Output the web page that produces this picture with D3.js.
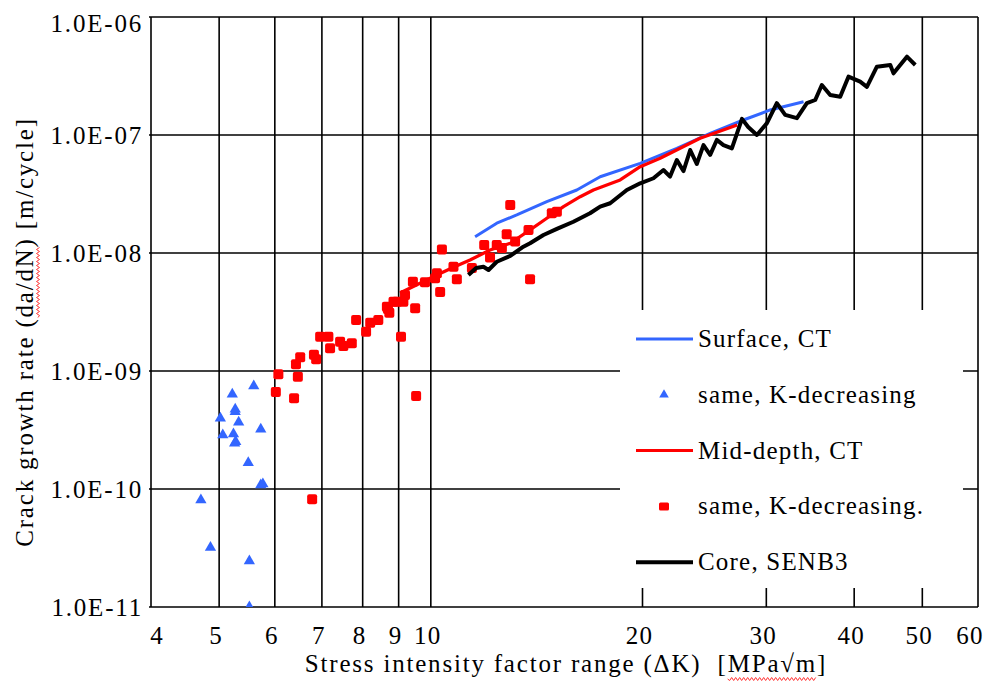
<!DOCTYPE html>
<html>
<head>
<meta charset="utf-8">
<script src="https://cdn.jsdelivr.net/npm/d3@7/dist/d3.min.js"></script>
<style>
  body { margin: 0; background: #fff; }
  text { font-family: "Liberation Serif", "Times New Roman", serif; fill: #000; }
</style>
</head>
<body>
<script>
// Canvas config
const config = { width: 989, height: 684 };
const plot = { left: 151, right: 978, top: 17, bottom: 607 };

// Axis ticks
const xTicks = [4, 5, 6, 7, 8, 9, 10, 20, 30, 40, 50, 60];
const yTicks = [1e-11, 1e-10, 1e-9, 1e-8, 1e-7, 1e-6];
const yTickLabels = ["1.0E-11", "1.0E-10", "1.0E-09", "1.0E-08", "1.0E-07", "1.0E-06"];

// Surface, CT (line)
const surfaceCT = [
  [11.56, 1.375e-8], [12.41, 1.79e-8], [13.25, 2.10e-8], [14.62, 2.72e-8],
  [16.13, 3.42e-8], [17.41, 4.43e-8], [19.85, 5.75e-8], [22.38, 7.71e-8],
  [24.96, 1.034e-7], [27.83, 1.34e-7], [30.38, 1.63e-7], [33.89, 1.915e-7]
];

// Surface, K-decreasing (triangles)
const surfaceKdec = [
  [5.60, 7.46e-10], [5.22, 6.35e-10], [5.27, 4.73e-10], [5.27, 4.52e-10],
  [5.02, 3.97e-10], [5.33, 3.67e-10], [5.73, 3.21e-10], [5.06, 2.87e-10],
  [5.24, 2.92e-10], [5.28, 2.52e-10], [5.26, 2.44e-10], [5.50, 1.67e-10],
  [5.73, 1.08e-10], [5.77, 1.10e-10], [4.71, 8.07e-11], [4.86, 3.2e-11],
  [5.52, 2.45e-11], [5.52, 1.0e-11]
];

// Mid-depth, CT (line)
const midCT = [
  [9.04, 4.58e-9], [9.65, 5.54e-9], [10.20, 6.51e-9], [10.77, 7.57e-9],
  [11.37, 8.73e-9], [12.14, 1.06e-8], [12.97, 1.21e-8], [13.84, 1.57e-8],
  [14.62, 1.97e-8], [15.44, 2.47e-8], [16.31, 3.0e-8], [17.03, 3.42e-8],
  [18.59, 4.16e-8], [19.85, 5.39e-8], [21.19, 6.35e-8], [24.15, 9.38e-8],
  [27.27, 1.215e-7]
];

// Mid-depth, K-decreasing (squares)
const midKdec = [
  [6.07, 9.37e-10], [6.02, 6.64e-10], [6.47, 8.95e-10], [6.39, 5.87e-10],
  [6.43, 1.14e-9], [6.52, 1.31e-9], [6.82, 1.37e-9], [6.87, 1.26e-9],
  [6.78, 8.18e-11], [6.96, 1.95e-9], [7.15, 1.95e-9], [7.19, 1.56e-9],
  [7.43, 1.77e-9], [7.51, 1.63e-9], [7.72, 1.72e-9], [7.83, 2.70e-9],
  [8.09, 2.15e-9], [8.20, 2.56e-9], [8.42, 2.70e-9], [8.69, 3.35e-9],
  [8.73, 3.12e-9], [8.95, 3.86e-9], [9.14, 3.86e-9], [9.07, 1.95e-9],
  [9.50, 3.40e-9], [9.53, 6.14e-10], [9.43, 5.71e-9], [9.81, 5.65e-9],
  [10.20, 6.73e-9], [10.31, 4.67e-9], [10.37, 1.07e-8], [10.77, 7.66e-9],
  [10.89, 5.98e-9], [11.44, 7.46e-9], [11.91, 1.17e-8], [12.14, 9.16e-9],
  [12.41, 1.17e-8], [12.82, 1.44e-8], [12.62, 1.10e-8], [13.18, 1.25e-8],
  [13.77, 1.57e-8], [14.86, 2.17e-8], [15.11, 2.24e-8], [12.97, 2.55e-8],
  [13.84, 5.98e-9], [10.14, 6.11e-9], [8.85, 3.86e-9], [9.19, 4.41e-9],
  [8.66, 3.51e-9]
];

// Core, SENB3 (line)
const coreSENB3 = [
  [11.31, 6.51e-9], [11.60, 7.46e-9], [11.88, 7.65e-9], [12.08, 7.18e-9],
  [12.41, 8.43e-9], [12.97, 9.44e-9], [13.54, 1.13e-8], [13.84, 1.21e-8],
  [14.46, 1.42e-8], [15.11, 1.60e-8], [15.95, 1.84e-8], [16.84, 2.17e-8],
  [17.41, 2.47e-8], [17.99, 2.64e-8], [19.00, 3.42e-8], [19.85, 3.90e-8],
  [20.73, 4.30e-8], [21.42, 5.05e-8], [21.89, 4.44e-8], [22.38, 6.14e-8],
  [22.87, 4.95e-8], [23.38, 7.46e-8], [23.89, 5.68e-8], [24.42, 8.22e-8],
  [24.96, 6.78e-8], [25.51, 9.08e-8], [26.07, 8.22e-8], [26.80, 7.71e-8],
  [27.70, 1.37e-7], [28.27, 1.17e-7], [29.09, 1.0e-7], [30.06, 1.26e-7],
  [31.05, 1.86e-7], [31.91, 1.48e-7], [33.16, 1.39e-7], [34.26, 1.86e-7],
  [35.21, 1.98e-7], [35.98, 2.65e-7], [36.98, 2.18e-7], [38.21, 2.11e-7],
  [39.26, 3.12e-7], [40.79, 2.83e-7], [41.70, 2.56e-7], [43.09, 3.79e-7],
  [45.02, 3.92e-7], [45.50, 3.33e-7], [47.54, 4.61e-7], [48.86, 3.92e-7]
];

// Legend
const legendLabels = ["Surface, CT", "same, K-decreasing", "Mid-depth, CT", "same, K-decreasing.", "Core, SENB3"];
const legendKinds = ["line", "triangle", "line", "square", "line"];
const legendColors = ["#3366ff", "#3366ff", "#ff0000", "#ff0000", "#000000"];

const xTitle = "Stress intensity factor range (\u0394K)  [MPa\u221am]";
const yTitle = "Crack growth rate (da/dN) [m/cycle]";

const fontSize = 25;
const spacing = "1.8px";

// Creating the canvas
const svg = d3
  .select("body")
  .append("svg")
  .attr("width", config.width)
  .attr("height", config.height);

svg.append("rect").attr("width", config.width).attr("height", config.height).attr("fill", "#fff");

// Scales
const x = d3.scaleLog().domain([4, 60]).range([plot.left, plot.right]);
const y = d3.scaleLog().domain([1e-11, 1e-6]).range([plot.bottom, plot.top]);

// Gridlines
const grid = svg.append("g").attr("stroke", "#000").attr("stroke-width", 1.6);
grid.selectAll(".vgrid")
  .data(xTicks)
  .enter()
  .append("line")
  .attr("x1", d => x(d)).attr("x2", d => x(d))
  .attr("y1", plot.top).attr("y2", plot.bottom);
grid.selectAll(".hgrid")
  .data(yTicks)
  .enter()
  .append("line")
  .attr("x1", plot.left - 2).attr("x2", plot.right)
  .attr("y1", d => y(d)).attr("y2", d => y(d));

// Tick labels (kept inside the chart area like Excel does)
svg.append("g")
  .selectAll("text")
  .data(xTicks)
  .enter()
  .append("text")
  .attr("x", d => Math.min(Math.max(x(d) - 3, 157), 970))
  .attr("y", 644)
  .attr("text-anchor", "middle")
  .attr("font-size", fontSize)
  .attr("letter-spacing", "1.2px")
  .text(d => d);

svg.append("g")
  .selectAll("text")
  .data(yTicks)
  .enter()
  .append("text")
  .attr("x", 143)
  .attr("y", d => Math.max(y(d) + 9, 32))
  .attr("text-anchor", "end")
  .attr("font-size", fontSize)
  .attr("letter-spacing", spacing)
  .text((d, i) => yTickLabels[i]);

// Wavy spell-check underline
const wavy = (x0, x1, yy) => {
  let d = `M${x0},${yy}`;
  let k = 0;
  for (let xx = x0 + 2; xx <= x1; xx += 2) {
    k++;
    d += `L${xx},${yy + (k % 2 ? 1.5 : -1.5)}`;
  }
  return d;
};

// Axis titles
const xTitleText = svg.append("text")
  .attr("x", 566)
  .attr("y", 672)
  .attr("text-anchor", "middle")
  .attr("font-size", fontSize)
  .attr("letter-spacing", spacing)
  .style("white-space", "pre")
  .text(xTitle);

const xi = xTitle.indexOf("MPa");
const xs = xTitleText.node().getStartPositionOfChar(xi).x;
const xe = xTitleText.node().getEndPositionOfChar(xi + 4).x;
svg.append("path")
  .attr("d", wavy(xs, xe, 679))
  .attr("fill", "none")
  .attr("stroke", "#ff3333")
  .attr("stroke-width", 1);

const yTitleGroup = svg.append("g").attr("transform", "translate(33,332) rotate(-90)");
const yTitleText = yTitleGroup.append("text")
  .attr("x", 0)
  .attr("y", 0)
  .attr("text-anchor", "middle")
  .attr("font-size", fontSize)
  .attr("letter-spacing", spacing)
  .text(yTitle);

const yi = yTitle.indexOf("da/dN");
const ys = yTitleText.node().getStartPositionOfChar(yi).x;
const ye = yTitleText.node().getEndPositionOfChar(yi + 4).x;
yTitleGroup.append("path")
  .attr("d", wavy(ys, ye, 5))
  .attr("fill", "none")
  .attr("stroke", "#ff3333")
  .attr("stroke-width", 1);

// Plot clipping
svg.append("clipPath")
  .attr("id", "plot-clip")
  .append("rect")
  .attr("x", plot.left)
  .attr("y", plot.top)
  .attr("width", plot.right - plot.left)
  .attr("height", plot.bottom - plot.top);

const series = svg.append("g").attr("clip-path", "url(#plot-clip)");

const line = d3.line().x(d => x(d[0])).y(d => y(d[1]));

// Surface, CT
series.append("path")
  .datum(surfaceCT)
  .attr("d", line)
  .attr("fill", "none")
  .attr("stroke", legendColors[0])
  .attr("stroke-width", 3)
  .attr("stroke-linejoin", "round");

// Surface K-decreasing triangles
series.selectAll(".tri")
  .data(surfaceKdec)
  .enter()
  .append("path")
  .attr("class", "tri")
  .attr("d", d3.symbol().type(d3.symbolTriangle).size(55))
  .attr("transform", d => `translate(${x(d[0])},${y(d[1])})`)
  .attr("fill", legendColors[1]);

// Mid-depth, CT
series.append("path")
  .datum(midCT)
  .attr("d", line)
  .attr("fill", "none")
  .attr("stroke", legendColors[2])
  .attr("stroke-width", 3.2)
  .attr("stroke-linejoin", "round");

// Mid-depth K-decreasing squares
series.selectAll(".sq")
  .data(midKdec)
  .enter()
  .append("rect")
  .attr("class", "sq")
  .attr("x", d => x(d[0]) - 5)
  .attr("y", d => y(d[1]) - 5)
  .attr("width", 10)
  .attr("height", 10)
  .attr("rx", 2)
  .attr("fill", legendColors[3]);

// Core, SENB3
series.append("path")
  .datum(coreSENB3)
  .attr("d", line)
  .attr("fill", "none")
  .attr("stroke", legendColors[4])
  .attr("stroke-width", 4)
  .attr("stroke-linejoin", "round");

// Legend
const legend = svg.append("g").attr("id", "legend");
legend.append("rect")
  .attr("x", 620)
  .attr("y", 310)
  .attr("width", 343)
  .attr("height", 278)
  .attr("fill", "#fff");

const item = legend.selectAll(".legend-item")
  .data(legendLabels)
  .enter()
  .append("g")
  .attr("class", "legend-item")
  .attr("transform", (d, i) => `translate(0,${339 + i * 55.8})`);

item.filter((d, i) => legendKinds[i] === "line")
  .append("line")
  .attr("x1", 636).attr("x2", 693)
  .attr("y1", 0).attr("y2", 0)
  .attr("stroke", d => legendColors[legendLabels.indexOf(d)])
  .attr("stroke-width", d => legendLabels.indexOf(d) === 4 ? 4 : 3);

item.filter((d, i) => legendKinds[i] === "triangle")
  .append("path")
  .attr("d", d3.symbol().type(d3.symbolTriangle).size(40))
  .attr("transform", "translate(664,0)")
  .attr("fill", legendColors[1]);

item.filter((d, i) => legendKinds[i] === "square")
  .append("rect")
  .attr("x", 659).attr("y", -4)
  .attr("width", 10).attr("height", 8)
  .attr("rx", 1.5)
  .attr("fill", legendColors[3]);

item.append("text")
  .attr("x", 698)
  .attr("y", 8)
  .attr("font-size", fontSize)
  .attr("letter-spacing", "1.2px")
  .text(d => d);
</script>
</body>
</html>
